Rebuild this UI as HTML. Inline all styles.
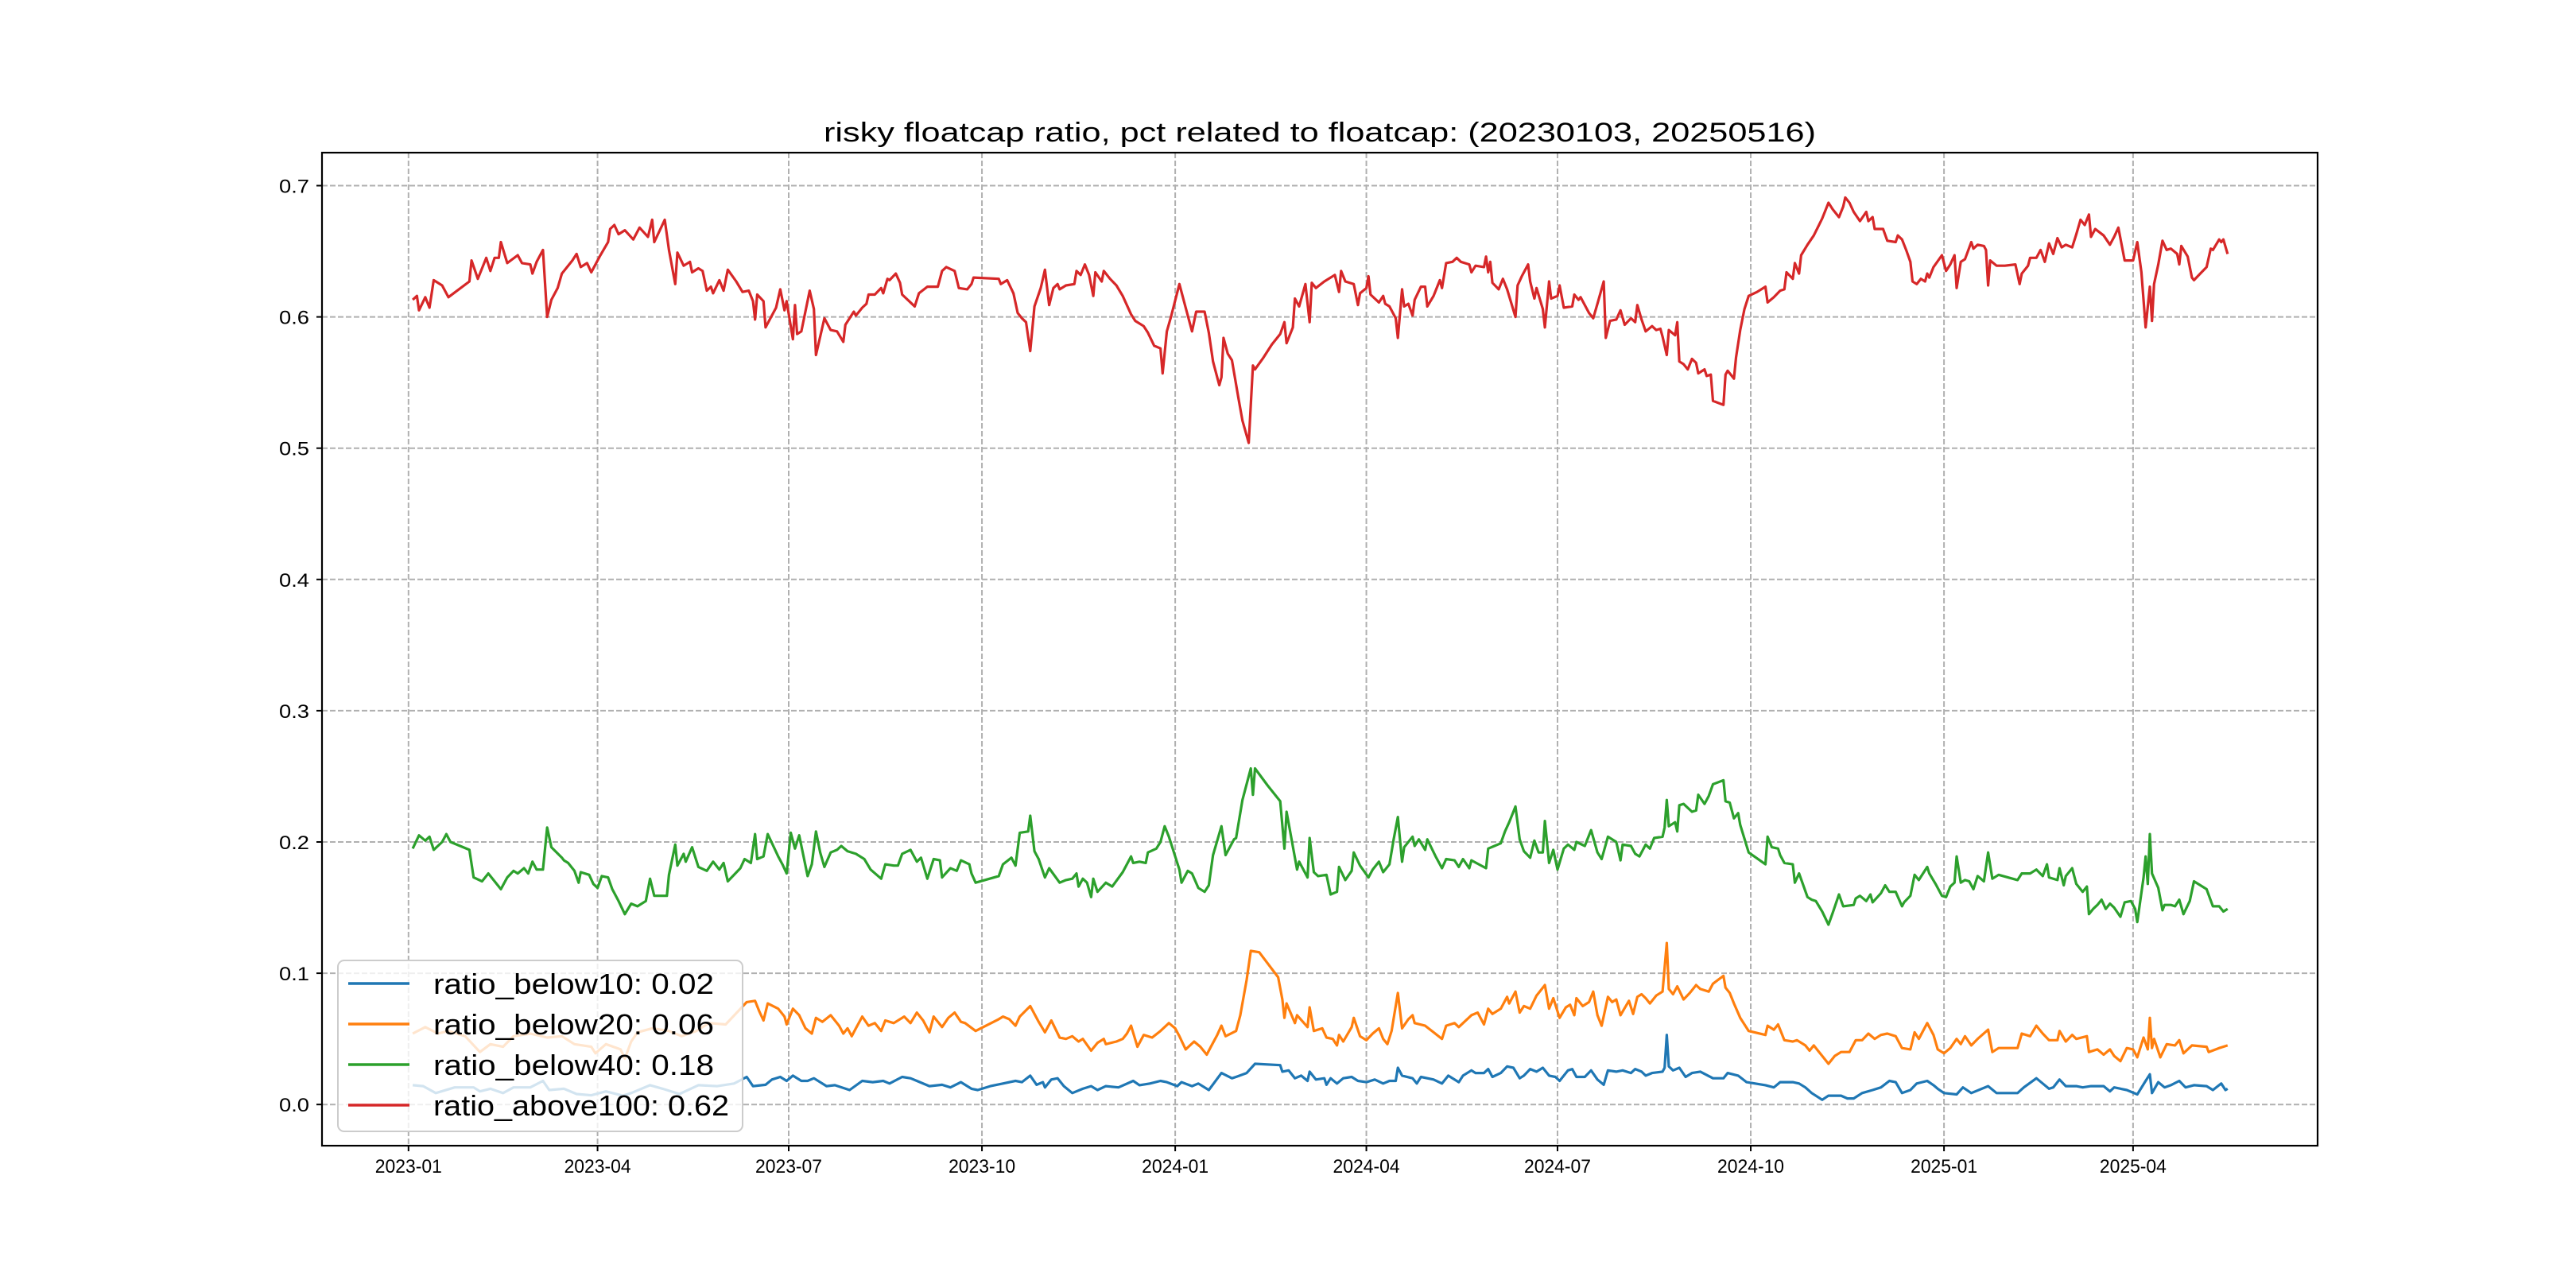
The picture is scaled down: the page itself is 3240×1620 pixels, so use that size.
<!DOCTYPE html>
<html><head><meta charset="utf-8"><style>
html,body{margin:0;padding:0;background:#fff}
svg{display:block}
text{font-family:"Liberation Sans","WenQuanYi Zen Hei",sans-serif;fill:#000}
</style></head><body>
<svg id="chart" width="3240" height="1620" viewBox="0 0 3240 1620" xmlns="http://www.w3.org/2000/svg">
<rect x="0" y="0" width="3240" height="1620" fill="#fff"/>
<g id="grid"></g>
<g id="series"></g>
<rect x="405" y="192" width="2510" height="1249" fill="none" stroke="#000" stroke-width="2.2"/>
<g id="ticks"></g>
<text x="1660" y="178" text-anchor="middle" font-size="34" textLength="1248" lengthAdjust="spacingAndGlyphs">risky floatcap ratio, pct related to floatcap: (20230103, 20250516)</text>
<g id="legend"></g>
</svg>
<script>
const seriesNames = ["ratio_below10: 0.02","ratio_below20: 0.06","ratio_below40: 0.18","ratio_above100: 0.62"];
const seriesColors = ["#1f77b4","#ff7f0e","#2ca02c","#d62728"];
const yTicks = [0.0,0.1,0.2,0.3,0.4,0.5,0.6,0.7];
const xTickLabels = ["2023-01","2023-04","2023-07","2023-10","2024-01","2024-04","2024-07","2024-10","2025-01","2025-04"];
const xTickDays = [0,90,181,273,365,456,547,639,731,821];

const redDays = [2,4,5,8,10,12,16,19,29,30,33,37,39,41,43,44,47,52,54,58,59,61,64,66,68,71,73,78,80,82,85,87,91,95,96,98,100,103,107,110,114,116,117,122,124,127,128,131,134,135,138,140,142,144,145,148,150,152,156,159,162,164,165,166,169,170,175,177,179,180,183,184,185,187,191,193,194,198,201,204,207,208,212,213,216,218,219,222,225,226,228,229,232,234,235,239,241,243,247,252,254,256,260,262,266,268,269,281,282,285,288,290,292,294,296,298,301,303,305,307,309,310,313,317,318,320,322,324,326,327,330,331,334,337,340,344,346,350,352,355,358,359,361,363,367,370,373,375,379,381,383,386,387,388,390,392,395,397,400,402,403,407,411,415,417,418,421,422,424,427,429,430,432,436,441,443,444,446,450,452,453,456,457,458,462,464,465,467,470,471,473,474,476,478,479,482,484,485,488,491,492,494,497,499,501,505,506,508,512,513,514,515,516,519,521,523,527,528,530,533,534,536,537,540,541,543,544,547,548,550,554,555,557,558,562,564,566,569,570,572,575,577,579,582,584,585,587,589,592,594,596,597,599,600,603,604,605,607,609,611,613,614,617,618,620,621,626,627,628,631,632,634,636,638,642,646,647,650,653,655,656,659,660,662,663,666,669,673,676,678,681,683,684,686,688,691,694,695,697,698,702,704,708,709,711,713,715,716,718,720,722,723,724,726,730,732,734,736,737,739,741,744,745,747,750,751,752,753,756,760,765,767,768,771,772,775,777,779,781,783,785,787,789,792,794,796,798,800,801,803,807,810,812,814,817,821,823,825,827,829,830,831,833,835,837,839,842,843,844,847,849,850,853,856,858,859,862,863,864,866];
const redVals = [0.613,0.616,0.605,0.615,0.607,0.628,0.624,0.615,0.627,0.643,0.629,0.645,0.635,0.645,0.645,0.657,0.641,0.647,0.641,0.640,0.633,0.642,0.651,0.600,0.613,0.622,0.633,0.643,0.648,0.638,0.641,0.634,0.646,0.657,0.667,0.670,0.663,0.666,0.659,0.668,0.661,0.674,0.657,0.674,0.651,0.625,0.649,0.639,0.642,0.634,0.637,0.635,0.620,0.623,0.618,0.628,0.620,0.636,0.627,0.619,0.620,0.612,0.598,0.617,0.612,0.592,0.607,0.621,0.605,0.612,0.583,0.609,0.587,0.589,0.620,0.606,0.571,0.599,0.590,0.589,0.581,0.594,0.604,0.601,0.607,0.610,0.617,0.617,0.622,0.618,0.629,0.628,0.633,0.626,0.617,0.611,0.608,0.618,0.623,0.623,0.635,0.638,0.635,0.622,0.621,0.625,0.630,0.629,0.625,0.628,0.618,0.603,0.599,0.596,0.574,0.608,0.622,0.636,0.609,0.622,0.625,0.621,0.624,0.625,0.635,0.632,0.640,0.632,0.616,0.634,0.627,0.635,0.629,0.624,0.616,0.602,0.597,0.593,0.588,0.578,0.576,0.557,0.589,0.600,0.625,0.607,0.589,0.604,0.604,0.588,0.566,0.548,0.554,0.584,0.572,0.567,0.539,0.521,0.504,0.563,0.560,0.569,0.579,0.587,0.596,0.580,0.592,0.614,0.608,0.625,0.596,0.626,0.622,0.627,0.632,0.619,0.635,0.627,0.625,0.609,0.618,0.622,0.631,0.617,0.611,0.616,0.610,0.608,0.599,0.584,0.621,0.608,0.610,0.601,0.613,0.623,0.623,0.608,0.616,0.628,0.622,0.641,0.642,0.645,0.642,0.640,0.634,0.639,0.638,0.646,0.634,0.642,0.626,0.621,0.629,0.621,0.600,0.624,0.631,0.640,0.627,0.614,0.622,0.606,0.592,0.627,0.614,0.616,0.624,0.607,0.608,0.617,0.613,0.615,0.603,0.599,0.610,0.627,0.584,0.597,0.598,0.605,0.594,0.599,0.596,0.609,0.598,0.589,0.593,0.590,0.591,0.585,0.571,0.590,0.586,0.596,0.566,0.564,0.560,0.568,0.565,0.557,0.560,0.555,0.556,0.536,0.533,0.556,0.559,0.553,0.569,0.590,0.606,0.616,0.619,0.623,0.611,0.615,0.620,0.621,0.634,0.629,0.641,0.633,0.647,0.655,0.662,0.675,0.687,0.682,0.676,0.684,0.691,0.687,0.680,0.673,0.680,0.673,0.676,0.667,0.667,0.658,0.657,0.662,0.659,0.651,0.642,0.627,0.625,0.629,0.627,0.633,0.630,0.638,0.647,0.635,0.640,0.647,0.622,0.642,0.644,0.657,0.652,0.655,0.654,0.651,0.624,0.643,0.639,0.639,0.640,0.625,0.633,0.639,0.645,0.645,0.651,0.642,0.656,0.648,0.660,0.653,0.655,0.653,0.663,0.674,0.670,0.678,0.661,0.667,0.662,0.655,0.661,0.668,0.643,0.643,0.657,0.634,0.592,0.623,0.597,0.625,0.640,0.658,0.651,0.652,0.648,0.640,0.654,0.646,0.630,0.628,0.633,0.638,0.652,0.651,0.659,0.657,0.659,0.648];

const greenDays = [2,5,8,10,12,16,18,20,29,31,35,38,40,44,47,50,52,55,57,59,61,64,66,68,73,74,76,79,81,82,86,88,90,92,95,97,100,103,106,109,113,115,117,123,124,127,128,131,132,135,138,142,145,148,150,152,158,160,163,165,166,169,171,176,178,180,182,184,186,190,192,194,196,198,201,204,206,209,213,217,220,225,227,231,233,235,239,242,244,247,250,253,254,258,261,263,267,268,270,281,283,287,289,291,295,296,298,300,303,305,310,313,316,318,319,321,323,325,326,328,332,335,340,344,345,348,351,352,356,358,360,362,367,368,371,373,376,379,381,383,387,389,393,394,397,401,402,403,409,415,417,418,423,424,428,429,431,433,437,439,442,443,446,449,450,453,457,459,462,464,467,469,471,473,474,478,479,481,484,485,489,492,494,498,500,502,505,506,513,514,517,520,522,524,527,529,531,534,536,538,540,541,543,545,547,550,552,555,556,560,563,566,568,571,575,577,578,582,584,586,589,591,593,597,598,599,600,603,604,605,607,611,613,614,617,619,621,626,627,629,631,633,634,638,646,647,649,652,653,655,659,660,662,666,668,670,673,676,678,681,683,688,689,691,694,696,697,701,703,705,708,711,712,715,717,719,723,724,727,730,732,734,736,737,739,741,743,745,747,750,752,754,757,766,768,772,775,778,780,781,785,786,788,789,792,794,797,799,800,802,804,806,808,810,812,815,817,820,822,823,826,827,828,829,830,833,835,836,839,841,843,845,848,850,856,859,862,864,866];
const greenVals = [0.195,0.205,0.201,0.204,0.194,0.200,0.206,0.200,0.194,0.173,0.170,0.176,0.172,0.164,0.173,0.178,0.176,0.180,0.176,0.185,0.179,0.179,0.211,0.196,0.188,0.186,0.184,0.178,0.169,0.177,0.175,0.168,0.165,0.174,0.173,0.164,0.155,0.145,0.153,0.151,0.155,0.172,0.159,0.159,0.175,0.198,0.182,0.191,0.185,0.196,0.181,0.178,0.185,0.179,0.184,0.170,0.180,0.187,0.184,0.206,0.187,0.189,0.206,0.189,0.183,0.176,0.207,0.195,0.205,0.174,0.183,0.208,0.192,0.181,0.192,0.194,0.197,0.193,0.191,0.187,0.179,0.172,0.183,0.182,0.182,0.191,0.194,0.185,0.188,0.172,0.187,0.186,0.173,0.180,0.178,0.186,0.183,0.176,0.169,0.174,0.183,0.188,0.182,0.207,0.208,0.220,0.193,0.187,0.173,0.180,0.169,0.171,0.172,0.176,0.166,0.172,0.169,0.158,0.172,0.162,0.169,0.166,0.177,0.189,0.184,0.185,0.184,0.192,0.195,0.200,0.212,0.204,0.179,0.169,0.178,0.176,0.165,0.162,0.167,0.190,0.212,0.190,0.202,0.203,0.232,0.256,0.236,0.256,0.243,0.231,0.195,0.223,0.179,0.185,0.173,0.203,0.177,0.174,0.175,0.160,0.162,0.181,0.171,0.178,0.192,0.182,0.173,0.179,0.185,0.177,0.183,0.202,0.219,0.185,0.196,0.204,0.197,0.202,0.194,0.202,0.189,0.180,0.187,0.186,0.181,0.187,0.180,0.186,0.180,0.195,0.197,0.199,0.208,0.215,0.227,0.202,0.193,0.188,0.201,0.192,0.192,0.216,0.184,0.194,0.179,0.195,0.198,0.194,0.200,0.197,0.209,0.192,0.187,0.204,0.200,0.186,0.198,0.197,0.191,0.189,0.198,0.195,0.203,0.204,0.211,0.232,0.212,0.215,0.208,0.228,0.229,0.223,0.224,0.236,0.229,0.235,0.244,0.247,0.231,0.230,0.218,0.222,0.213,0.192,0.183,0.204,0.196,0.195,0.190,0.184,0.183,0.169,0.176,0.158,0.156,0.155,0.147,0.137,0.146,0.160,0.151,0.152,0.157,0.159,0.155,0.160,0.154,0.161,0.167,0.162,0.162,0.151,0.154,0.159,0.175,0.171,0.181,0.176,0.168,0.159,0.158,0.166,0.169,0.189,0.169,0.171,0.170,0.164,0.174,0.170,0.192,0.172,0.175,0.171,0.176,0.176,0.179,0.174,0.183,0.173,0.171,0.180,0.167,0.174,0.180,0.168,0.162,0.166,0.145,0.149,0.152,0.156,0.149,0.153,0.150,0.143,0.154,0.155,0.149,0.139,0.173,0.189,0.168,0.206,0.176,0.165,0.148,0.152,0.152,0.151,0.156,0.145,0.155,0.170,0.164,0.151,0.151,0.147,0.149];

const orangeDays = [2,8,14,19,27,34,39,45,50,58,66,73,79,87,89,94,101,103,106,109,116,124,130,137,143,151,161,165,167,169,171,176,179,180,183,186,189,192,194,197,201,205,207,209,211,213,216,219,222,225,227,231,236,239,242,245,248,250,254,257,260,263,265,270,281,283,286,289,291,296,300,303,306,310,313,316,319,321,325,328,331,332,337,340,342,344,347,350,354,358,362,365,367,370,374,377,380,382,385,387,389,394,396,399,401,405,414,416,417,418,422,423,428,429,431,435,437,440,442,443,445,449,450,453,456,459,462,464,466,468,471,473,476,478,479,484,488,492,494,498,500,506,509,512,514,516,520,523,524,527,529,531,534,537,541,543,545,548,551,553,555,556,559,562,564,566,568,571,573,575,577,581,583,585,587,589,591,594,597,599,600,602,604,607,610,613,615,619,621,626,627,629,631,634,638,646,647,650,652,655,659,661,665,667,669,672,673,676,679,682,686,689,692,695,698,701,704,708,711,715,717,719,723,726,728,731,734,737,739,741,744,747,752,754,757,766,768,772,775,778,781,785,786,789,792,794,799,800,804,807,810,812,815,818,821,823,826,828,829,830,831,834,837,841,843,845,849,856,857,862,866];
const orangeVals = [0.054,0.059,0.054,0.056,0.052,0.040,0.046,0.044,0.052,0.054,0.051,0.052,0.046,0.044,0.039,0.046,0.042,0.035,0.048,0.055,0.058,0.056,0.052,0.056,0.062,0.061,0.078,0.079,0.071,0.064,0.077,0.073,0.067,0.061,0.073,0.068,0.058,0.054,0.066,0.063,0.068,0.060,0.054,0.058,0.052,0.058,0.067,0.060,0.062,0.056,0.064,0.062,0.067,0.062,0.070,0.064,0.055,0.067,0.059,0.066,0.070,0.063,0.062,0.056,0.065,0.067,0.065,0.060,0.067,0.075,0.063,0.055,0.064,0.051,0.050,0.052,0.048,0.050,0.041,0.047,0.050,0.046,0.048,0.050,0.054,0.060,0.044,0.053,0.051,0.056,0.062,0.058,0.052,0.042,0.048,0.044,0.038,0.044,0.053,0.060,0.052,0.056,0.068,0.095,0.117,0.116,0.097,0.080,0.066,0.077,0.062,0.068,0.059,0.074,0.056,0.058,0.051,0.050,0.045,0.053,0.048,0.059,0.066,0.052,0.049,0.054,0.058,0.050,0.046,0.056,0.085,0.058,0.065,0.068,0.062,0.060,0.055,0.050,0.060,0.062,0.059,0.068,0.070,0.061,0.073,0.069,0.073,0.082,0.077,0.086,0.070,0.075,0.073,0.083,0.091,0.073,0.081,0.066,0.074,0.076,0.068,0.081,0.075,0.078,0.086,0.068,0.060,0.082,0.078,0.080,0.068,0.079,0.069,0.082,0.084,0.081,0.077,0.083,0.086,0.123,0.088,0.084,0.090,0.080,0.085,0.091,0.088,0.086,0.092,0.098,0.089,0.085,0.077,0.066,0.056,0.053,0.060,0.057,0.061,0.049,0.048,0.049,0.045,0.041,0.045,0.039,0.037,0.031,0.037,0.040,0.040,0.049,0.049,0.054,0.050,0.053,0.054,0.052,0.043,0.042,0.055,0.050,0.062,0.053,0.042,0.039,0.043,0.050,0.046,0.052,0.045,0.050,0.057,0.040,0.043,0.043,0.054,0.052,0.060,0.054,0.049,0.049,0.056,0.048,0.053,0.050,0.052,0.040,0.042,0.038,0.042,0.037,0.033,0.043,0.042,0.036,0.051,0.042,0.066,0.043,0.050,0.036,0.046,0.045,0.049,0.039,0.045,0.044,0.040,0.043,0.045];

const blueDays = [2,7,13,22,31,34,39,45,50,58,64,67,74,80,87,94,102,106,115,121,129,138,147,155,161,164,170,173,177,180,183,187,190,193,199,203,210,216,221,226,229,235,239,242,248,254,258,263,268,271,277,283,289,292,296,299,302,303,306,309,312,316,321,325,328,332,338,345,348,353,358,361,366,368,373,376,381,387,392,394,399,403,415,416,419,422,425,428,429,432,436,437,439,442,445,449,452,456,460,464,467,470,471,473,478,480,482,488,492,495,500,502,506,508,512,514,516,520,523,526,529,531,534,537,540,543,546,548,552,554,556,560,563,566,569,571,575,578,582,584,587,589,592,597,598,599,600,602,605,608,611,615,621,626,628,633,637,646,650,653,659,662,665,668,673,676,682,685,688,692,697,701,705,708,711,715,718,723,726,728,731,737,740,744,752,756,766,769,775,778,781,783,786,789,794,797,801,807,810,812,818,823,827,829,830,833,836,839,843,846,850,856,859,863,865,866];
const blueVals = [0.0147,0.014,0.0087,0.013,0.013,0.010,0.012,0.0087,0.013,0.013,0.018,0.011,0.012,0.008,0.007,0.010,0.0067,0.0087,0.0147,0.012,0.008,0.0147,0.014,0.016,0.021,0.014,0.015,0.019,0.021,0.018,0.022,0.018,0.018,0.020,0.014,0.0147,0.011,0.018,0.017,0.018,0.016,0.021,0.020,0.018,0.014,0.015,0.013,0.017,0.012,0.011,0.014,0.016,0.018,0.017,0.022,0.015,0.017,0.013,0.019,0.020,0.014,0.0087,0.012,0.014,0.011,0.014,0.013,0.018,0.0147,0.016,0.018,0.017,0.014,0.017,0.014,0.016,0.011,0.024,0.020,0.021,0.024,0.031,0.030,0.025,0.026,0.020,0.022,0.018,0.025,0.019,0.020,0.015,0.020,0.016,0.020,0.021,0.018,0.017,0.019,0.016,0.018,0.018,0.028,0.022,0.020,0.016,0.021,0.019,0.016,0.022,0.017,0.022,0.026,0.024,0.024,0.027,0.021,0.024,0.029,0.028,0.020,0.022,0.027,0.025,0.028,0.022,0.021,0.018,0.026,0.027,0.021,0.021,0.026,0.019,0.015,0.026,0.025,0.026,0.024,0.027,0.025,0.022,0.024,0.025,0.028,0.053,0.029,0.026,0.028,0.021,0.024,0.025,0.020,0.020,0.024,0.022,0.017,0.0147,0.013,0.017,0.017,0.016,0.013,0.0087,0.0036,0.0067,0.0067,0.0046,0.0046,0.0087,0.011,0.013,0.018,0.017,0.0087,0.011,0.016,0.018,0.0147,0.012,0.0087,0.0077,0.013,0.0087,0.014,0.0087,0.0087,0.013,0.020,0.016,0.012,0.013,0.019,0.014,0.014,0.013,0.014,0.014,0.010,0.013,0.011,0.0077,0.018,0.023,0.0087,0.017,0.013,0.0147,0.018,0.013,0.0147,0.014,0.011,0.016,0.011,0.012];

const X0 = 513.8, PX_PER_DAY = 2.642;
const Y0 = 1389.2, PX_PER_UNIT = 1651;
function xScale(day){ return X0 + day*PX_PER_DAY; }
function yScale(v){ return Y0 - v*PX_PER_UNIT; }
const NS = "http://www.w3.org/2000/svg";
function mk(tag, attrs, parent){ const e=document.createElementNS(NS,tag); for(const k in attrs) e.setAttribute(k,attrs[k]); parent.appendChild(e); return e; }

const grid = document.getElementById('grid');
const ticks = document.getElementById('ticks');
yTicks.forEach((t,i)=>{
  const y=yScale(t);
  const g=mk('line',{x1:405,x2:2915,y1:y,y2:y,stroke:'#b0b0b0','stroke-width':2,'stroke-dasharray':'7,3'},grid);
  
  
  const tk=mk('line',{x1:398,x2:405,y1:y,y2:y,stroke:'#000','stroke-width':2},ticks);
  
  
  const tx=mk('text',{x:389,y:y+9,'text-anchor':'end','font-size':24,textLength:38,lengthAdjust:'spacingAndGlyphs'},ticks);
  tx.textContent=t.toFixed(1);
  
  
});
xTickLabels.forEach((lab,i)=>{
  const x=xScale(xTickDays[i]);
  const g=mk('line',{x1:x,x2:x,y1:192,y2:1441,stroke:'#b0b0b0','stroke-width':2,'stroke-dasharray':'7,3'},grid);
  
  
  const tk=mk('line',{x1:x,x2:x,y1:1441,y2:1448,stroke:'#000','stroke-width':2},ticks);
  
  
  const tx=mk('text',{x:x,y:1475,'text-anchor':'middle','font-size':24,textLength:84,lengthAdjust:'spacingAndGlyphs'},ticks);
  tx.textContent=lab;
  
  
});

const seriesLayer=document.getElementById('series');
const allDays=[blueDays,orangeDays,greenDays,redDays];
const allVals=[blueVals,orangeVals,greenVals,redVals];
const lineNames=['line-ratio-below10','line-ratio-below20','line-ratio-below40','line-ratio-above100'];
allDays.forEach((days,s)=>{
  const vals=allVals[s];
  const pts=days.map((d,i)=>xScale(d).toFixed(1)+','+yScale(vals[i]).toFixed(1)).join(' ');
  const p=mk('polyline',{points:pts,fill:'none',stroke:seriesColors[s],'stroke-width':3.2,'stroke-linejoin':'round'},seriesLayer);
  
  
});

const legend=document.getElementById('legend');
const box=mk('rect',{x:425,y:1208,width:509,height:215,rx:8,fill:'#fff','fill-opacity':0.8,stroke:'#cccccc','stroke-width':2},legend);


const legY=[1237,1288,1339,1390];
seriesNames.forEach((n,i)=>{
  const l=mk('line',{x1:438,x2:515,y1:legY[i],y2:legY[i],stroke:seriesColors[i],'stroke-width':3.5},legend);
  
  
  const t=mk('text',{x:545,y:legY[i]+13,'font-size':36,textLength:(n.length*18.6).toFixed(0),lengthAdjust:'spacingAndGlyphs'},legend);
  t.textContent=n;
  
  
});
</script>
</body></html>
